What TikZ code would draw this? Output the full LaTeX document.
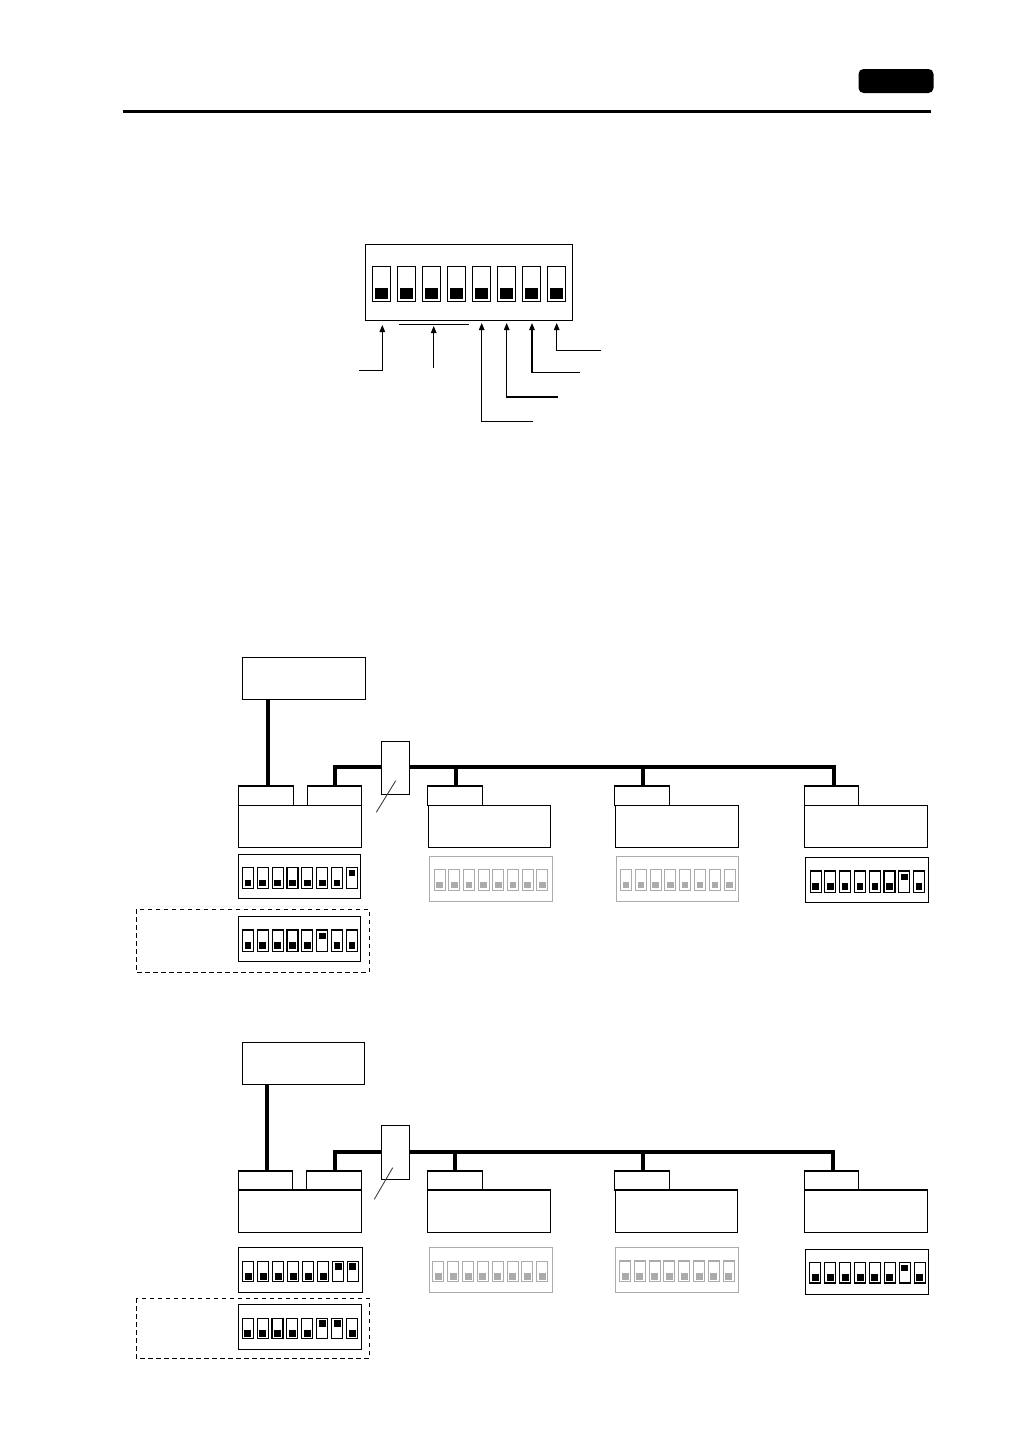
\documentclass[tikz,border=0pt]{standalone}
\usetikzlibrary{arrows.meta}
\definecolor{dimgray}{HTML}{ABABAB}
\tikzset{
  plain/.style={draw=black,fill=white,line width=1.05pt,inner sep=0pt,outer sep=0pt},
  bus/.style={line width=4pt,line cap=butt,line join=miter},
  lead/.style={line width=1.05pt,line join=miter},
  tiparrow/.style={lead,-{Triangle[length=7pt,width=5.5pt]}},
  slash/.style={line width=0.9pt,draw=black!75},
  dashbox/.style={draw=black,line width=1pt,dash pattern=on 4.5pt off 3.5pt},
}
% box by corners: options, name, x0, y0, x1, y1
\newcommand\bx[6][]{%
  \node[plain,#1,minimum width={(#5-#3)*1pt},minimum height={(#6-#4)*1pt}]
    (#2) at ({(#3+#5)/2},{(#4+#6)/2}) {};}
% switch geometry: width, height, blob width, blob height, blob inset
\newcommand\swsize[5]{\def\swW{#1}\def\swH{#2}\def\blW{#3}\def\blH{#4}\def\blI{#5}}
% switches: colour, bank name, first centre x, pitch, top y, states
\newcommand\switches[6]{%
  \foreach \s [count=\n] in {#6} {
    \pgfmathsetmacro\cx{#3+(\n-1)*#4}
    \pgfmathsetmacro\cy{#5+\swH/2}
    \pgfmathsetmacro\by{\s==1 ? #5+\blI+\blH/2 : #5+\swH-\blI-\blH/2}
    \node[plain,draw=#1,minimum width={\swW*1pt},minimum height={\swH*1pt}] (#2s\n) at (\cx,\cy) {};
    \node[fill=#1,inner sep=0pt,outer sep=0pt,minimum width={\blW*1pt},minimum height={\blH*1pt}] (#2b\n) at (\cx,\by) {};
  }}
\begin{document}
\begin{tikzpicture}[x=1pt,y=-1pt]
\useasboundingbox (0,0) rectangle (1030,1456);
\fill[white] (0,0) rectangle (1030,1456);
% header
\node[fill=black,rounded corners=5pt,inner sep=0pt,outer sep=0pt,minimum width=75pt,minimum height=24pt] (badge) at (896,81) {};
\coordinate (ruleL) at (123,111.7);
\coordinate (ruleR) at (931,111.7);
\draw[line width=3pt] (ruleL) -- (ruleR);

% top switch bank
\bx{topdip}{365.3}{244.3}{572.5}{320.5}
\swsize{18.4}{35.4}{12.3}{11}{3}
\switches{black}{top}{381.5}{25}{266.3}{0,0,0,0,0,0,0,0}
\coordinate (brL) at (398.7,324.3);
\coordinate (brR) at (469.3,324.3);
\draw[lead] (brL) -- (brR);
\coordinate (a1a) at (359,370.3);  \coordinate (a1t) at (382.3,325);
\coordinate (a2a) at (433.7,367.7);\coordinate (a2t) at (433.7,326);
\coordinate (a3a) at (533,421.3);  \coordinate (a3t) at (481.7,323);
\coordinate (a4a) at (558,397);    \coordinate (a4t) at (506.7,323);
\coordinate (a5a) at (579.7,372.3);\coordinate (a5t) at (532,323);
\coordinate (a6a) at (601,350.3);  \coordinate (a6t) at (556.7,323);
\draw[tiparrow] (a1a) -| (a1t);
\draw[tiparrow] (a2a) -- (a2t);
\draw[tiparrow] (a3a) -| (a3t);
\draw[tiparrow] (a4a) -| (a4t);
\draw[tiparrow] (a5a) -| (a5t);
\draw[tiparrow] (a6a) -| (a6t);

% ---------- first network ----------
\bx{hostA}{242.5}{657.5}{365.5}{699.5}
\coordinate (busAr) at (834,766.7);
\bx{tabA1}{238.3}{786}{293.7}{805.3}
\bx{tabA2}{307.3}{786}{361.3}{805.3}
\bx{mainA1}{238.3}{805.3}{361.3}{847.3}
\bx{tabA3}{427.3}{786}{482.7}{805.3}
\bx{mainA3}{428.3}{805.3}{550.3}{847.3}
\bx{tabA4}{614.3}{786}{669.7}{805.3}
\bx{mainA4}{615.3}{805.3}{738.3}{847.3}
\bx{tabA5}{804.3}{786}{858.3}{805.3}
\bx{mainA5}{804.3}{805.3}{927.3}{847.3}
\draw[bus] ([xshift=25.5pt]hostA.south west) -- ([xshift=29.7pt]tabA1.north west);
\draw[bus] ([xshift=27.7pt]tabA2.north west) |- (busAr) -- ([xshift=29.7pt]tabA5.north west);
\draw[bus] ([xshift=28.7pt]tabA3.north west) -- ([xshift=28.7pt,yshift=19.3pt]tabA3.north west);
\draw[bus] ([xshift=28.7pt]tabA4.north west) -- ([xshift=28.7pt,yshift=19.3pt]tabA4.north west);
\bx{connA}{381.3}{741.3}{409.3}{794.3}
\coordinate (slA1) at (395.7,780.7);
\coordinate (slA2) at (376.3,812.3);
\draw[slash] (slA1) -- (slA2);

\swsize{11}{21.3}{6.5}{6.5}{2.5}
\bx{dipA1}{238.3}{854.3}{360.7}{898.7}
\switches{black}{dA1}{247.8}{14.9}{867.3}{0,0,0,0,0,0,0,1}
\bx{dipA2}{238.3}{916.3}{360.7}{961.3}
\switches{black}{dA2}{247.8}{14.9}{930}{0,0,0,0,0,1,0,0}
\draw[dashbox] (136.3,909.3) rectangle (369.3,972.3);
\bx[draw=dimgray]{dipA3}{429.3}{856.3}{552.7}{901.3}
\switches{dimgray}{dA3}{439.7}{14.67}{869.3}{0,0,0,0,0,0,0,0}
\bx[draw=dimgray]{dipA4}{616.3}{856.3}{738.3}{901.7}
\switches{dimgray}{dA4}{626}{14.8}{869.3}{0,0,0,0,0,0,0,0}
\bx{dipA5}{805.3}{857.3}{928.3}{902.7}
\switches{black}{dA5}{815.7}{14.76}{871}{0,0,0,0,0,0,1,0}

% ---------- second network ----------
\bx{hostB}{242.5}{1042.5}{364.5}{1084.5}
\coordinate (busBr) at (833,1152);
\bx{tabB1}{238.3}{1171}{292.7}{1190}
\bx{tabB2}{306.3}{1171}{361.3}{1190}
\bx{mainB1}{238.3}{1190}{361.3}{1232.3}
\bx{tabB3}{427.3}{1171}{482.7}{1190}
\bx{mainB3}{427.3}{1190}{550.3}{1232.3}
\bx{tabB4}{614.3}{1171}{669.7}{1190}
\bx{mainB4}{615.3}{1190}{737.3}{1232.3}
\bx{tabB5}{804.3}{1171}{858.3}{1190}
\bx{mainB5}{804.3}{1190}{927.3}{1232.3}
\draw[line width=1.8pt] (mainB1.north west) -- (mainB1.north east);
\draw[line width=1.8pt] (tabB3.south west) -- (tabB3.south east);
\draw[line width=1.8pt] (tabB4.south west) -- (tabB4.south east);
\draw[line width=1.8pt] (tabB5.south west) -- (tabB5.south east);
\draw[bus] ([xshift=24.5pt]hostB.south west) -- ([xshift=28.7pt]tabB1.north west);
\draw[bus] ([xshift=28.7pt]tabB2.north west) |- (busBr) -- ([xshift=28.7pt]tabB5.north west);
\draw[bus] ([xshift=27.7pt]tabB3.north west) -- ([xshift=27.7pt,yshift=19pt]tabB3.north west);
\draw[bus] ([xshift=28.7pt]tabB4.north west) -- ([xshift=28.7pt,yshift=19pt]tabB4.north west);
\bx{connB}{381.3}{1125.3}{409.3}{1179.3}
\coordinate (slB1) at (392.7,1167.7);
\coordinate (slB2) at (374.3,1199.3);
\draw[slash] (slB1) -- (slB2);

\swsize{11}{20.5}{7}{6.8}{2}
\bx{dipB1}{238.3}{1247.3}{362.3}{1292.3}
\switches{black}{dB1}{248.3}{14.95}{1261.3}{0,0,0,0,0,0,1,1}
\bx{dipB2}{238.3}{1304.3}{361.3}{1349.3}
\switches{black}{dB2}{247.7}{14.9}{1318.3}{0,0,0,0,0,1,1,0}
\draw[dashbox] (136.3,1298.3) rectangle (369.3,1358.3);
\bx[draw=dimgray]{dipB3}{429.3}{1247.3}{552.7}{1292.3}
\switches{dimgray}{dB3}{438.3}{14.86}{1261.3}{0,0,0,0,0,0,0,0}
\bx[draw=dimgray]{dipB4}{615.3}{1247.3}{738.3}{1292.7}
\switches{dimgray}{dB4}{625}{14.81}{1261}{0,0,0,0,0,0,0,0}
\bx{dipB5}{805.3}{1249.3}{928.3}{1294.7}
\switches{black}{dB5}{815.3}{14.92}{1262.5}{0,0,0,0,0,0,1,0}
\end{tikzpicture}
\end{document}
